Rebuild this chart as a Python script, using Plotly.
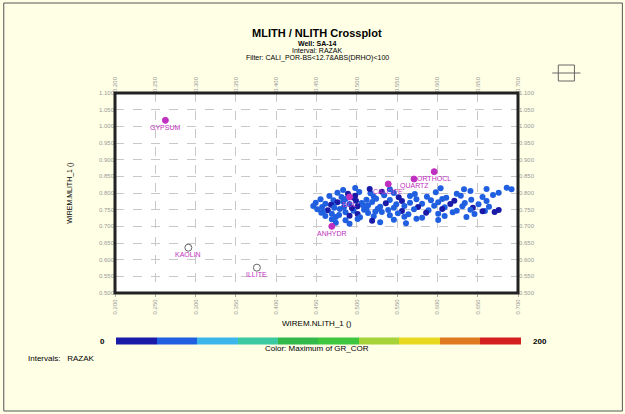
import plotly.graph_objects as go

# ---------------- data ----------------
x_ticks = [0.20, 0.25, 0.30, 0.35, 0.40, 0.45, 0.50, 0.55, 0.60, 0.65, 0.70]
y_ticks = [0.50, 0.55, 0.60, 0.65, 0.70, 0.75, 0.80, 0.85, 0.90, 0.95, 1.00, 1.05, 1.10]

min_names = ["GYPSUM", "KAOLIN", "ILLITE", "ORTHOCL", "QUARTZ", "CALCITE", "DOL", "ANHYDR"]
min_x = [0.2625, 0.291, 0.376, 0.596, 0.571, 0.539, 0.491, 0.469]
min_y = [1.018, 0.636, 0.576, 0.864, 0.842, 0.827, 0.788, 0.700]
min_filled = [True, False, False, True, True, True, True, True]

pts_x = [
    0.476, 0.489, 0.503, 0.517, 0.531, 0.546, 0.572, 0.598, 0.624, 0.641,
    0.466, 0.481, 0.498, 0.521, 0.534, 0.552, 0.566, 0.587, 0.611, 0.629, 0.656, 0.669,
    0.455, 0.471, 0.486, 0.499, 0.512, 0.524, 0.541, 0.556, 0.574, 0.592, 0.606, 0.621, 0.642, 0.661,
    0.449, 0.461, 0.476, 0.491, 0.506, 0.519, 0.536, 0.549, 0.566, 0.581, 0.601, 0.616, 0.634, 0.651,
    0.446, 0.457, 0.471, 0.484, 0.501, 0.514, 0.529, 0.546, 0.559, 0.576, 0.596, 0.609, 0.631, 0.644, 0.664,
    0.451, 0.464, 0.479, 0.496, 0.509, 0.526, 0.539, 0.556, 0.571, 0.589, 0.606, 0.624, 0.641, 0.659, 0.676,
    0.456, 0.469, 0.486, 0.501, 0.514, 0.531, 0.551, 0.564, 0.586, 0.601, 0.619, 0.646,
    0.461, 0.474, 0.491, 0.504, 0.521, 0.541, 0.559, 0.581, 0.609, 0.636,
    0.469, 0.486, 0.501, 0.519, 0.546, 0.574, 0.601,
    0.474, 0.491, 0.529, 0.561,
    0.661, 0.676, 0.686, 0.692, 0.656, 0.671,
    0.468, 0.483, 0.494, 0.508, 0.523, 0.478, 0.496, 0.512, 0.458, 0.472,
    0.498, 0.516, 0.541, 0.604, 0.633, 0.483,
]
pts_y = [
    0.801, 0.798, 0.803, 0.799, 0.804, 0.800, 0.797, 0.802, 0.798, 0.806,
    0.791, 0.788, 0.792, 0.789, 0.793, 0.787, 0.791, 0.789, 0.786, 0.792, 0.788, 0.794,
    0.781, 0.778, 0.782, 0.777, 0.780, 0.783, 0.779, 0.776, 0.781, 0.778, 0.782, 0.777, 0.780, 0.776,
    0.771, 0.768, 0.772, 0.767, 0.770, 0.773, 0.769, 0.766, 0.771, 0.768, 0.772, 0.767, 0.770, 0.766,
    0.761, 0.758, 0.762, 0.757, 0.760, 0.763, 0.759, 0.756, 0.761, 0.758, 0.762, 0.757, 0.760, 0.756, 0.759,
    0.751, 0.748, 0.752, 0.747, 0.750, 0.753, 0.749, 0.746, 0.751, 0.748, 0.752, 0.747, 0.750, 0.746, 0.749,
    0.741, 0.738, 0.742, 0.737, 0.740, 0.743, 0.739, 0.736, 0.741, 0.738, 0.742, 0.737,
    0.731, 0.728, 0.732, 0.727, 0.730, 0.733, 0.729, 0.726, 0.731, 0.728,
    0.721, 0.718, 0.722, 0.717, 0.720, 0.723, 0.719,
    0.711, 0.708, 0.712, 0.709,
    0.812, 0.801, 0.816, 0.811, 0.745, 0.743,
    0.765, 0.774, 0.755, 0.763, 0.744, 0.734, 0.786, 0.752, 0.744, 0.756,
    0.815, 0.812, 0.811, 0.814, 0.811, 0.809,
]
pts_c = [
    30, 12, 30, 30, 12, 30, 30, 30, 30, 30,
    30, 30, 12, 30, 30, 12, 30, 30, 30, 30, 30, 30,
    30, 30, 30, 12, 30, 30, 30, 12, 30, 30, 30, 12, 30, 30,
    30, 30, 12, 30, 30, 30, 12, 30, 30, 30, 30, 12, 30, 30,
    30, 30, 30, 30, 12, 30, 30, 30, 30, 12, 30, 30, 30, 12, 30,
    30, 12, 30, 30, 30, 30, 30, 12, 30, 30, 12, 30, 30, 30, 12,
    30, 30, 30, 12, 30, 30, 30, 30, 12, 30, 30, 30,
    30, 30, 12, 30, 30, 30, 30, 30, 30, 30,
    30, 30, 30, 12, 30, 30, 30,
    30, 30, 30, 30,
    30, 30, 30, 30, 12, 12,
    12, 30, 12, 30, 30, 30, 12, 30, 30, 30,
    30, 12, 30, 30, 30, 30,
]

c_min, c_max = 0, 200

# ---------------- style ----------------
seg_colors = ["#1a1aa8", "#1f5fe0", "#3cb6ea", "#3cc8a0", "#33b84a",
              "#3ec63e", "#a6d23a", "#e8d820", "#e07a20", "#d42020"]
colorscale = []
for i, c in enumerate(seg_colors):
    colorscale.append([i / 10, c])
    colorscale.append([(i + 1) / 10, c])

BG = "#ffffe6"
FONT = "Liberation Sans, Arial, sans-serif"

fig = go.Figure()

fig.add_trace(go.Scatter(
    x=pts_x, y=pts_y, mode="markers",
    marker=dict(size=6, color=pts_c, cmin=c_min, cmax=c_max, colorscale=colorscale,
                line=dict(width=0),
                colorbar=dict(orientation="h", x=0.504, xanchor="center", y=-0.24, yanchor="middle",
                              lenmode="pixels", len=405, thickness=7, outlinewidth=0,
                              xpad=0, ypad=0,
                              showticklabels=False, ticks="")),
    showlegend=False, hoverinfo="skip"))

for n, x, y, f in zip(min_names, min_x, min_y, min_filled):
    fig.add_trace(go.Scatter(
        x=[x], y=[y], mode="markers",
        marker=dict(size=6 if f else 7, color="#c030c0" if f else "rgba(0,0,0,0)",
                    line=dict(width=1, color="#c030c0" if f else "#666666")),
        showlegend=False, hoverinfo="skip"))
    fig.add_annotation(x=x, y=y, text=n, showarrow=False, yshift=-7,
                       font=dict(size=7, color="#c030c0", family=FONT))

# invisible trace for mirrored axes
fig.add_trace(go.Scatter(x=[x_ticks[0]], y=[y_ticks[0]], xaxis="x2", yaxis="y2",
                         mode="markers", marker=dict(opacity=0), showlegend=False, hoverinfo="skip"))

tickfont = dict(size=6, color="#999999", family=FONT)
xa = dict(range=[0.2, 0.7], tickvals=x_ticks, ticktext=[f"{v:.3f}" for v in x_ticks],
          tickangle=-90, tickfont=tickfont, showgrid=True, gridcolor="#c8c8c8",
          griddash="dash", gridwidth=1, zeroline=False, ticks="outside", ticklen=3,
          tickcolor="#aaaaaa", showline=False, automargin=False)
ya = dict(range=[0.5, 1.1], tickvals=y_ticks, ticktext=[f"{v:.3f}" for v in y_ticks],
          tickfont=tickfont, showgrid=True, gridcolor="#c8c8c8", griddash="dash",
          gridwidth=1, zeroline=False, ticks="", showline=False, automargin=False)

fig.update_layout(
    width=625, height=414,
    margin=dict(l=115, r=107, t=93, b=121, autoexpand=False),
    paper_bgcolor=BG, plot_bgcolor="white",
    font=dict(family=FONT),
    xaxis=xa,
    yaxis=ya,
    xaxis2=dict(overlaying="x", side="top", matches="x", range=[0.2, 0.7], tickvals=x_ticks,
                ticktext=[f"{v:.3f}" for v in x_ticks], tickangle=-90, tickfont=tickfont,
                showgrid=False, zeroline=False, ticks="", showline=False, automargin=False),
    yaxis2=dict(overlaying="y", side="right", matches="y", range=[0.5, 1.1], tickvals=y_ticks,
                ticktext=[f"{v:.3f}" for v in y_ticks], tickfont=tickfont,
                showgrid=False, zeroline=False, ticks="", showline=False, automargin=False),
)

# frame around plot area
fig.add_shape(type="rect", xref="paper", yref="paper", x0=0, x1=1, y0=0, y1=1,
              line=dict(color="#222222", width=3), layer="above")
# outer border
fig.add_shape(type="rect", xref="paper", yref="paper", x0=-0.276, x1=1.259, y0=-0.59, y1=1.45,
              line=dict(color="#555555", width=1))
# small icon top-right
fig.add_shape(type="rect", xref="paper", yref="paper", x0=1.100, x1=1.140, y0=1.06, y1=1.14,
              line=dict(color="#666666", width=1))
fig.add_shape(type="line", xref="paper", yref="paper", x0=1.085, x1=1.155, y0=1.10, y1=1.10,
              line=dict(color="#666666", width=1))

def ann(text, xp, yp, size, bold=False, color="black", xanchor="center", angle=0):
    fig.add_annotation(x=xp, y=yp, xref="paper", yref="paper", showarrow=False,
                       text=f"<b>{text}</b>" if bold else text, textangle=angle,
                       xanchor=xanchor, yanchor="middle",
                       font=dict(size=size, color=color, family=FONT))

ann("MLITH / NLITH Crossplot", 0.502, 1.30, 11, bold=True)
ann("Well: SA-14", 0.502, 1.25, 7, bold=True)
ann("Interval: RAZAK", 0.502, 1.212, 7)
ann("Filter: CALI_POR-BS<12.7&ABS(DRHO)<100", 0.502, 1.175, 7)
ann("WIREM.NLITH_1 ()", 0.502, -0.15, 8)
ann("WIREM.MLITH_1 ()", -0.112, 0.5, 7, angle=-90)
ann("0", -0.032, -0.24, 8, bold=True)
ann("200", 1.055, -0.24, 8, bold=True)
ann("Color: Maximum of GR_COR", 0.502, -0.275, 8)
ann("Intervals:   RAZAK", -0.22, -0.325, 8, xanchor="left")

fig.write_html("out.html", config={"displayModeBar": False},
               post_script="document.body.style.margin='0';document.body.style.overflow='hidden';")
